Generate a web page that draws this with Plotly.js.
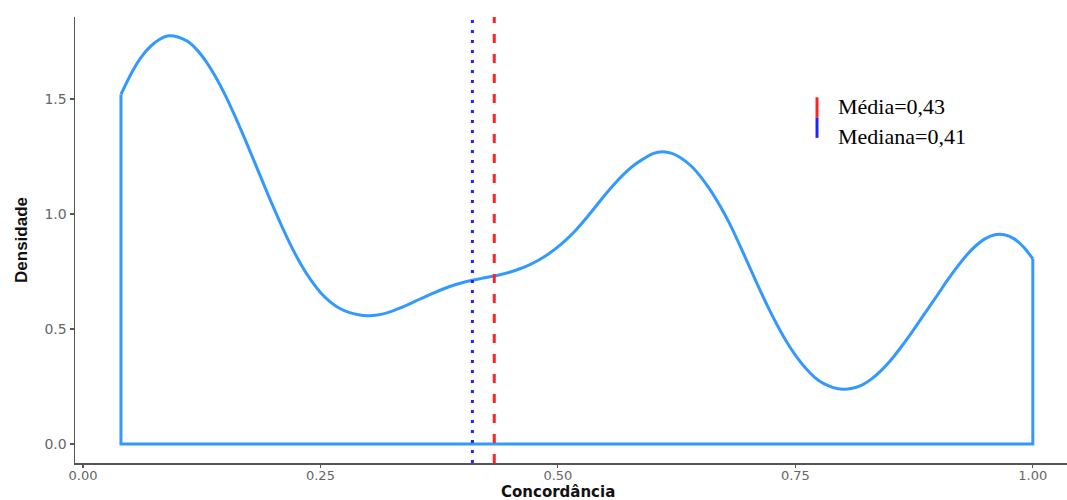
<!DOCTYPE html>
<html>
<head>
<meta charset="utf-8">
<script src="https://cdn.plot.ly/plotly-3.0.1.min.js"></script>
<style>html,body{margin:0;padding:0;background:#fff;}#chart{width:1067px;height:500px;}</style>
</head>
<body>
<div id="chart"></div>
<script>
// Density estimate of "Concordância"
const concordancia = [0.04,0.05,0.06,0.07,0.08,0.09,0.10,0.11,0.12,0.13,0.14,0.15,0.16,0.17,0.18,0.19,0.20,
  0.21,0.22,0.23,0.24,0.25,0.26,0.27,0.28,0.29,0.30,0.31,0.32,0.33,0.34,0.35,0.36,0.37,0.38,0.39,0.40,
  0.41,0.42,0.43,0.44,0.45,0.46,0.47,0.48,0.49,0.50,0.51,0.52,0.53,0.54,0.55,0.56,0.57,0.58,0.59,0.60,
  0.61,0.62,0.63,0.64,0.65,0.66,0.67,0.68,0.69,0.70,0.71,0.72,0.73,0.74,0.75,0.76,0.77,0.78,0.79,0.80,
  0.81,0.82,0.83,0.84,0.85,0.86,0.87,0.88,0.89,0.90,0.91,0.92,0.93,0.94,0.95,0.96,0.97,0.98,0.99,1.00];
const densidade = [1.52,1.605,1.675,1.725,1.758,1.775,1.770,1.751,1.714,1.661,1.594,1.515,1.426,1.331,1.232,1.132,1.034,
  0.941,0.854,0.777,0.712,0.659,0.619,0.590,0.572,0.562,0.558,0.561,0.570,0.585,0.602,0.621,0.640,0.658,0.675,0.690,0.702,
  0.712,0.720,0.728,0.737,0.748,0.762,0.779,0.800,0.826,0.857,0.893,0.935,0.983,1.034,1.085,1.133,1.176,1.212,1.240,1.263,
  1.271,1.264,1.243,1.210,1.164,1.107,1.040,0.965,0.878,0.786,0.694,0.606,0.524,0.450,0.386,0.333,0.291,0.262,0.245,0.238,
  0.242,0.256,0.282,0.318,0.362,0.414,0.470,0.530,0.590,0.650,0.711,0.768,0.820,0.862,0.893,0.910,0.910,0.893,0.858,0.805];
const media = 0.433;
const mediana = 0.41;
const legendLabels = ["Média=0,43", "Mediana=0,41"];
const xTitle = "Concordância";
const yTitle = "Densidade";
const xTickVals = [0, 0.25, 0.5, 0.75, 1.0];
const xTickText = ["0.00", "0.25", "0.50", "0.75", "1.00"];
const yTickVals = [0, 0.5, 1.0, 1.5];
const yTickText = ["0.0", "0.5", "1.0", "1.5"];

const n = concordancia.length;
const lineColor = '#3399ff';

// smooth density curve
const curve = {
  x: concordancia, y: densidade, type: 'scatter', mode: 'lines',
  line: {color: lineColor, width: 3, shape: 'spline', smoothing: 1},
  hoverinfo: 'skip', showlegend: false
};
// closing outline (vertical edges + baseline), as in ggplot's geom_density
const outline = {
  x: [concordancia[0], concordancia[0], concordancia[n-1], concordancia[n-1]],
  y: [densidade[0], 0, 0, densidade[n-1]],
  type: 'scatter', mode: 'lines',
  line: {color: lineColor, width: 3, shape: 'linear'},
  hoverinfo: 'skip', showlegend: false
};

const layout = {
  width: 1067, height: 500,
  margin: {l: 75, r: 0, t: 17, b: 37},
  paper_bgcolor: '#ffffff', plot_bgcolor: '#ffffff',
  showlegend: false,
  xaxis: {
    range: [-0.0084, 1.036], showgrid: false, zeroline: false,
    showline: true, linecolor: '#555555', linewidth: 1.5,
    ticks: 'outside', ticklen: 3, tickcolor: '#555555', tickwidth: 1.2,
    ticklabelstandoff: -3,
    tickvals: xTickVals, ticktext: xTickText,
    tickfont: {family: 'DejaVu Sans, sans-serif', size: 13, color: '#666666'}
  },
  yaxis: {
    range: [-0.083, 1.857], showgrid: false, zeroline: false,
    showline: true, linecolor: '#555555', linewidth: 1.5,
    ticks: 'outside', ticklen: 4, tickcolor: '#555555', tickwidth: 1.2,
    tickvals: yTickVals, ticktext: yTickText,
    tickfont: {family: 'DejaVu Sans, sans-serif', size: 14, color: '#666666'},
    title: {text: yTitle, standoff: 12,
      font: {family: 'Liberation Sans Narrow, Liberation Sans, sans-serif', size: 17, color: '#111111', weight: 'bold'}}
  },
  shapes: [
    {type: 'line', xref: 'x', yref: 'paper', x0: media, x1: media, y0: 0, y1: 1,
     line: {color: '#ff2222', width: 3, dash: '9px,11px'}},
    {type: 'line', xref: 'x', yref: 'paper', x0: mediana, x1: mediana, y0: 0, y1: 1,
     line: {color: '#2222ff', width: 3, dash: '3px,7px'}},
    {type: 'line', xref: 'paper', yref: 'paper', x0: 0.748, x1: 0.748, y0: 0.774, y1: 0.820,
     line: {color: '#ff2222', width: 3}},
    {type: 'line', xref: 'paper', yref: 'paper', x0: 0.748, x1: 0.748, y0: 0.729, y1: 0.774,
     line: {color: '#2222ff', width: 3}}
  ],
  annotations: [
    {xref: 'paper', yref: 'paper', x: 0.767, y: 0.800, xanchor: 'left', yanchor: 'middle',
     text: legendLabels[0], showarrow: false,
     font: {family: 'Liberation Serif, Times New Roman, serif', size: 22, color: '#000000'}},
    {xref: 'paper', yref: 'paper', x: 0.767, y: 0.733, xanchor: 'left', yanchor: 'middle',
     text: legendLabels[1], showarrow: false,
     font: {family: 'Liberation Serif, Times New Roman, serif', size: 22, color: '#000000'}},
    {xref: 'x', yref: 'paper', x: 0.5, y: -0.066, xanchor: 'center', yanchor: 'middle',
     text: xTitle, showarrow: false,
     font: {family: 'DejaVu Sans, sans-serif', size: 15, color: '#111111', weight: 'bold'}}
  ]
};

Plotly.newPlot('chart', [curve, outline], layout, {displayModeBar: false, staticPlot: true});
</script>
</body>
</html>
